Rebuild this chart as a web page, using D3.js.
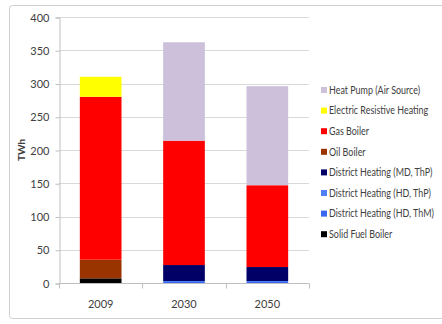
<!DOCTYPE html>
<html>
<head>
<meta charset="utf-8">
<script src="https://cdn.jsdelivr.net/npm/d3@7"></script>
<style>
  body { margin: 0; background: #fff; }
  text { font-family: Lato, "Open Sans", sans-serif; fill: #404040; }
</style>
</head>
<body>
<div id="chart"></div>
<script>
const years = ["2009", "2030", "2050"];
const seriesNames = [
  "Solid Fuel Boiler",
  "District Heating (HD, ThM)",
  "District Heating (HD, ThP)",
  "District Heating (MD, ThP)",
  "Oil Boiler",
  "Gas Boiler",
  "Electric Resistive Heating",
  "Heat Pump (Air Source)",
];
const seriesColors = ["#000000", "#3a66f0", "#4f7ff5", "#000066", "#993300", "#ff0000", "#ffff00", "#ccc0da"];
// values per series, in order of years
const solidFuel = [7, 0, 0];
const dhHdThm = [0, 1.5, 1.5];
const dhHdThp = [0, 1.5, 1.5];
const dhMdThp = [0, 24, 21];
const oilBoiler = [28, 0, 0];
const gasBoiler = [245, 187, 123];
const electric = [30, 0, 0];
const heatPump = [0, 148, 149];
const yTicks = [0, 50, 100, 150, 200, 250, 300, 350, 400];

const seriesValues = [solidFuel, dhHdThm, dhHdThp, dhMdThp, oilBoiler, gasBoiler, electric, heatPump];

const W = 442, H = 324;
const M = { top: 17, left: 59, right: 133, bottom: 41 };

const svg = d3.select("#chart").append("svg")
  .attr("width", W).attr("height", H);

// outer chart frame
svg.append("rect")
  .attr("x", 9.5).attr("y", 5.5)
  .attr("width", 440).attr("height", 313)
  .attr("rx", 3)
  .attr("fill", "none").attr("stroke", "#d0d0d0");

const rows = years.map((y, i) => {
  const r = { year: y };
  seriesNames.forEach((s, k) => { r[s] = seriesValues[k][i]; });
  return r;
});
const stacked = d3.stack().keys(seriesNames)(rows);

const x = d3.scaleBand().domain(years).range([M.left, W - M.right]).paddingInner(0.5).paddingOuter(0.25);
const y = d3.scaleLinear().domain([0, 400]).range([H - M.bottom, M.top]);

// gridlines
svg.append("g").selectAll("line").data(yTicks.slice(1)).join("line")
  .attr("x1", M.left).attr("x2", W - M.right)
  .attr("y1", d => Math.round(y(d)) + 0.5).attr("y2", d => Math.round(y(d)) + 0.5)
  .attr("stroke", "#d9d9d9");

// y axis
const yAxis = svg.append("g")
  .attr("transform", `translate(${M.left + 0.5},0.5)`)
  .call(d3.axisLeft(y).tickValues(yTicks).tickSize(4).tickPadding(6));
yAxis.select(".domain").attr("stroke", "#bfbfbf");
yAxis.selectAll(".tick line").attr("stroke", "#bfbfbf");
yAxis.selectAll(".tick text").style("font-size", "11px").style("font-family", "Lato, sans-serif").attr("fill", "#404040");

// bars
svg.append("g").selectAll("g").data(stacked).join("g")
  .attr("fill", (d, i) => seriesColors[i])
  .selectAll("rect").data(d => d).join("rect")
  .attr("x", d => x(d.data.year))
  .attr("width", x.bandwidth())
  .attr("y", d => y(d[1]))
  .attr("height", d => y(d[0]) - y(d[1]));

// x axis
const step = x.step();
const xa = svg.append("g").attr("transform", `translate(0,${Math.round(y(0)) + 0.5})`);
xa.append("line").attr("x1", M.left).attr("x2", W - M.right).attr("stroke", "#bfbfbf");
const bounds = [M.left].concat(years.map(yr => x(yr) + x.bandwidth() / 2 + step / 2));
xa.selectAll(".xt").data(bounds).join("line")
  .attr("x1", d => Math.round(d) + 0.5).attr("x2", d => Math.round(d) + 0.5)
  .attr("y1", 0).attr("y2", 5).attr("stroke", "#bfbfbf");
xa.selectAll("text").data(years).join("text")
  .attr("x", d => x(d) + x.bandwidth() / 2)
  .attr("y", 24)
  .attr("text-anchor", "middle")
  .style("font-size", "11px")
  .text(d => d);

// y title
svg.append("text")
  .attr("transform", `translate(25,${(M.top + H - M.bottom) / 2}) rotate(-90)`)
  .attr("text-anchor", "middle")
  .style("font-size", "10px").style("font-weight", "bold")
  .text("TWh");

// legend (top to bottom is reverse stack order)
const legendItems = seriesNames.map((s, i) => ({ name: s, color: seriesColors[i] })).reverse();
const lg = svg.append("g").attr("transform", "translate(321,90)");
const li = lg.selectAll("g").data(legendItems).join("g")
  .attr("transform", (d, i) => `translate(0,${i * 20.6})`);
li.append("rect").attr("x", 0).attr("y", -3).attr("width", 6).attr("height", 6)
  .attr("fill", d => d.color);
const labels = li.append("text").attr("x", 8).attr("y", 0).attr("dy", "0.35em")
  .style("font-size", "11px")
  .text(d => d.name);
// squeeze labels to the narrow width of the original font
const widest = d3.max(labels.nodes(), n => n.getComputedTextLength());
const k = Math.min(1, 105 / widest);
labels.attr("transform", `translate(8,0) scale(${k},1) translate(-8,0)`);
</script>
</body>
</html>
